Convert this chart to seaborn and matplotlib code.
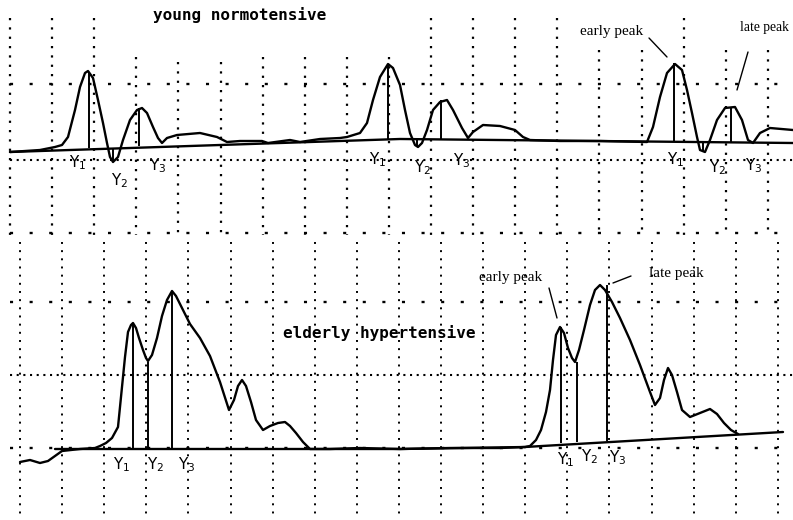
import numpy as np
import pandas as pd
import matplotlib
matplotlib.use("Agg")
import matplotlib.pyplot as plt
import seaborn as sns

sns.set_theme(style="white")
plt.rcParams['font.family'] = ['DejaVu Sans']

# ---- data: traced waveforms (time, velocity in chart units) ----
top_t = [10, 40, 55, 62, 68, 75, 80, 85, 88, 93, 98, 103, 107, 110, 113, 118, 123, 130, 137, 142,
         147, 153, 158, 162, 167, 177, 200, 217, 227, 240, 262, 268, 290, 300, 320, 340, 347,
         360, 367, 373, 380, 388, 393, 400, 405, 410, 415, 418, 422, 427, 433, 440, 447, 453, 462,
         468, 473, 483, 500, 515, 523, 530, 560, 600, 647, 653, 660, 667, 675, 682, 687, 692,
         697, 700, 705, 710, 717, 725, 735, 742, 748, 753, 760, 770, 793]
top_v = [152, 150, 147, 145, 137, 110, 87, 73, 71, 78, 100, 123, 143, 157, 162, 157, 140, 120, 110, 108,
         113, 127, 138, 143, 138, 135, 133, 137, 142, 141, 141, 143, 140, 142, 139, 138, 137,
         133, 123, 100, 77, 64, 68, 85, 110, 133, 145, 147, 143, 130, 110, 102, 100, 110, 128,
         138, 132, 125, 126, 130, 137, 140, 141, 141, 142, 127, 97, 73, 64, 70, 90, 113,
         137, 150, 152, 140, 120, 108, 107, 120, 140, 143, 133, 128, 130]

bot_t = [20, 30, 40, 48, 55, 62, 80, 95, 100, 106, 112, 118, 122, 125, 128, 131, 133, 136, 139,
         143, 146, 148, 152, 157, 162, 167, 172, 176, 182, 190, 200, 210, 220, 229, 234, 238, 242,
         246, 251, 256, 263, 270, 278, 285, 290, 296, 303, 310, 330, 360, 400, 450, 500, 525, 530,
         536, 541, 546, 550, 553, 556, 560, 564, 568, 572, 575, 579, 584, 590, 595, 600, 605, 612,
         620, 630, 640, 650, 655, 660, 664, 668, 672, 677, 682, 690, 700, 710, 717, 724, 731, 738]
bot_v = [462, 460, 463, 461, 456, 451, 449, 448, 446, 443, 438, 427, 387, 357, 332, 325, 323, 328, 338,
         350, 358, 361, 355, 338, 316, 300, 291, 296, 308, 324, 338, 356, 382, 410, 400, 386, 380,
         386, 402, 420, 430, 426, 423, 422, 426, 433, 442, 449, 449, 448, 449, 448, 448, 447, 446,
         440, 430, 412, 390, 360, 335, 327, 333, 348, 358, 362, 350, 330, 305, 290, 285, 290, 302,
         318, 340, 365, 392, 405, 398, 380, 368, 375, 392, 410, 417, 413, 409, 414, 423, 430, 434]

# baselines
top_base_t = [10, 400, 793]
top_base_v = [152, 139, 143]
bot_base_t = [55, 400, 525, 783]
bot_base_v = [449, 449, 447, 432]

# measurement markers (peak / trough positions)
top_mark_t = [89, 113, 139, 388, 417, 441, 674, 703, 731]
top_mark_top = [72, 161, 108, 65, 147, 100, 63, 152, 107]
top_mark_base = [148, 149, 146, 139, 140, 140, 141, 142, 142]
bot_mark_t = [133, 148, 172, 561, 577, 607]
bot_mark_top = [323, 362, 291, 327, 362, 285]
bot_mark_base = [449, 449, 449, 443, 442, 441]

y_labels = ["Y$_1$", "Y$_2$", "Y$_3$"]

fig = plt.figure(figsize=(7.93, 5.2), dpi=100)
ax = fig.add_axes([0, 0, 1, 1])
ax.set_xlim(0, 793)
ax.set_ylim(520, 0)
ax.axis("off")
fig.patch.set_facecolor("white")

# ---- dotted grid ----
gc = "black"
top_vx = [10 + 42.1 * i for i in range(19)]
top_vstart = [18, 18, 18, 57, 62, 62, 57, 57, 57, 57, 18, 18, 18, 18, 50, 50, 18, 50, 50]
bot_vx = [20 + 42.1 * i for i in range(19)]
ax.vlines(top_vx, top_vstart, 235, colors=gc, linestyles=(0, (1, 3.2)), linewidth=1.6)
ax.vlines(bot_vx, 242, 518, colors=gc, linestyles=(0, (1, 3.2)), linewidth=1.4)
ax.hlines([84, 233, 302, 448], 10, 793, colors=gc, linestyles=(0, (1.3, 7)), linewidth=1.7)
ax.hlines([160, 375], 10, 793, colors=gc, linestyles=(0, (1, 2.2)), linewidth=1.5)

# ---- traces ----
lw = 1.7
for t, v in [(top_t, top_v), (bot_t, bot_v), (top_base_t, top_base_v), (bot_base_t, bot_base_v)]:
    df = pd.DataFrame({"t": t, "v": v})
    sns.lineplot(data=df, x="t", y="v", sort=False, estimator=None, color="black", linewidth=lw, ax=ax)
ax.vlines(top_mark_t, top_mark_top, top_mark_base, colors="black", linewidth=1.4)
ax.vlines(bot_mark_t, bot_mark_top, bot_mark_base, colors="black", linewidth=1.4)
ax.set_xlim(0, 793)
ax.set_ylim(520, 0)
ax.set_xlabel("")
ax.set_ylabel("")

# ---- labels ----
mono = dict(family="DejaVu Sans Mono", fontsize=11.5, fontweight="bold", color="black")
ax.text(153, 15, "young normotensive", ha="left", va="center", **mono)
ax.text(283, 333, "elderly hypertensive", ha="left", va="center", **mono)

serif = dict(family="Liberation Serif", fontsize=11, color="black")
ax.text(580, 31, "early peak", ha="left", va="center", **serif)
ax.text(740, 27, "late peak", ha="left", va="center",
        family="Liberation Serif", fontsize=9.8, color="black")
ax.text(479, 277, "early peak", ha="left", va="center", **serif)
ax.text(649, 273, "late peak", ha="left", va="center", **serif)
ax.plot([649, 667], [38, 57], color="black", linewidth=1)
ax.plot([748, 737], [52, 90], color="black", linewidth=1)
ax.plot([549, 557], [288, 318], color="black", linewidth=1)
ax.plot([613, 631], [283, 276], color="black", linewidth=1)

hand = dict(family="DejaVu Sans", fontsize=11, color="black")
top_lab_pos = [(78, 163), (120, 181), (158, 166), (378, 160), (423, 168), (462, 161),
               (676, 160), (718, 168), (754, 166)]
for i, (x, y) in enumerate(top_lab_pos):
    ax.text(x, y, y_labels[i % 3], ha="center", va="center", **hand)
bot_lab_pos = [(122, 465), (156, 465), (187, 465), (566, 460), (590, 457), (618, 458)]
for i, (x, y) in enumerate(bot_lab_pos):
    ax.text(x, y, y_labels[i % 3], ha="center", va="center", **hand)

fig.savefig("out.png", dpi=100, facecolor="white")
